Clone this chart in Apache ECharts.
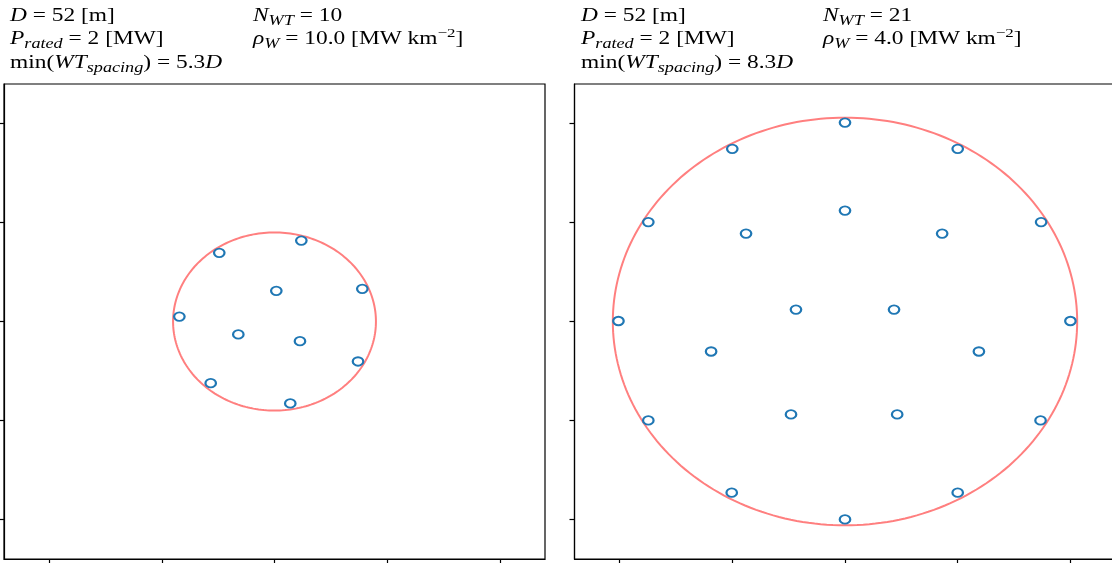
<!DOCTYPE html>
<html><head><meta charset="utf-8">
<script src="https://cdn.jsdelivr.net/npm/echarts@6/dist/echarts.min.js"></script>
<style>html,body{margin:0;padding:0;background:#fff}#c{width:1112px;height:563px}</style>
</head><body><div id="c"></div>
<script>
// ---- data (axis units; ticks unlabeled) ----
const tickValues = [-2, -1, 0, 1, 2];
const axisMin = -2.4, axisMax = 2.4;

// Left layout (N_WT = 10)
const leftX = [-0.49, 0.238, 0.016, 0.779, -0.844, -0.321, 0.226, 0.741, -0.566, 0.14];
const leftY = [0.694, 0.818, 0.31, 0.33, 0.05, -0.131, -0.199, -0.404, -0.623, -0.828];
const leftCircle = [0, 0, 0.9];   // centre x, centre y, radius

// Right layout (N_WT = 21)
const rightX = [0, -1.0, 1.0, -1.745, 1.74, -2.01, 2.0, -1.745, 1.735, -1.005, 1.0, 0,
                0, -0.878, 0.862, -0.435, 0.435, -1.188, 1.188, -0.479, 0.463];
const rightY = [2.01, 1.745, 1.745, 1.005, 1.005, 0.005, 0.005, -1.0, -1.0, -1.73, -1.73, -2.0,
                1.121, 0.889, 0.889, 0.121, 0.121, -0.303, -0.303, -0.939, -0.939];
const rightCircle = [0, 0, 2.06];

// annotation texts (rich-text markup)
const leftCol1 = ['{i|D} = 52 [m]', '{i|P}{s|rated} = 2 [MW]', 'min({i|WT}{s|spacing}) = 5.3{i|D}'];
const leftCol2 = ['{i|N}{s|WT} = 10', '{i|ρ}{s|W} = 10.0 [MW km{p|−2}]'];
const rightCol1 = ['{i|D} = 52 [m]', '{i|P}{s|rated} = 2 [MW]', 'min({i|WT}{s|spacing}) = 8.3{i|D}'];
const rightCol2 = ['{i|N}{s|WT} = 21', '{i|ρ}{s|W} = 4.0 [MW km{p|−2}]'];

// ---- chart ----
const FONT = '"Liberation Serif", "DejaVu Serif", serif';
const chart = echarts.init(document.getElementById('c'), null, {renderer: 'canvas'});

function axisCfg(idx) {
  return {
    gridIndex: idx, type: 'value', min: axisMin, max: axisMax,
    axisLine: {show: true, onZero: false, lineStyle: {color: '#000', width: 1.2}},
    axisTick: {show: true, inside: false, length: 5, customValues: tickValues, lineStyle: {color: '#000', width: 1.2}},
    axisLabel: {show: false},
    splitLine: {show: false}
  };
}
function circleSeries(idx, c) {
  return {
    type: 'custom', xAxisIndex: idx, yAxisIndex: idx, z: 2, silent: true,
    data: [c],
    renderItem: function (params, api) {
      const cx = api.value(0), cy = api.value(1), r = api.value(2);
      const pts = [];
      for (let k = 0; k <= 240; k++) {
        const t = k / 240 * 2 * Math.PI;
        pts.push(api.coord([cx + r * Math.cos(t), cy + r * Math.sin(t)]));
      }
      return {type: 'polyline', shape: {points: pts}, style: {stroke: '#ff7f7f', lineWidth: 2, fill: null}};
    }
  };
}
function scatterSeries(idx, xs, ys) {
  return {
    type: 'scatter', xAxisIndex: idx, yAxisIndex: idx, z: 3, silent: true,
    symbol: 'circle', symbolSize: [10.5, 8.5],
    itemStyle: {color: 'rgba(0,0,0,0)', borderColor: '#1f77b4', borderWidth: 2, opacity: 1},
    data: xs.map((x, i) => [x, ys[i]])
  };
}
const rich = {
  i: {fontFamily: FONT, fontStyle: 'italic', fontSize: 18, lineHeight: 24, color: '#000'},
  s: {fontFamily: FONT, fontStyle: 'italic', fontSize: 14, lineHeight: 7, verticalAlign: 'bottom', color: '#000'},
  p: {fontFamily: FONT, fontSize: 13, lineHeight: 16, verticalAlign: 'top', color: '#000'}
};
function textEl(str, x, y) {
  return {
    type: 'text', x: x, y: y, scaleX: 1.3, silent: true,
    style: {text: str, x: 0, y: 0, fontFamily: FONT, fontSize: 18, lineHeight: 24, fill: '#000',
            verticalAlign: 'top', align: 'left', rich: rich}
  };
}
const graphics = [];
const rowY = [4, 27.5, 51];
leftCol1.forEach((t, i) => graphics.push(textEl(t, 10, rowY[i])));
leftCol2.forEach((t, i) => graphics.push(textEl(t, 253, rowY[i])));
rightCol1.forEach((t, i) => graphics.push(textEl(t, 581, rowY[i])));
rightCol2.forEach((t, i) => graphics.push(textEl(t, 823, rowY[i])));

chart.setOption({
  animation: false,
  backgroundColor: '#fff',
  grid: [
    {left: 4, top: 84, width: 541, height: 475, show: true, borderColor: '#000', borderWidth: 1.2,
     backgroundColor: 'transparent', outerBoundsMode: 'none', containLabel: false},
    {left: 574.5, top: 84, width: 541, height: 475, show: true, borderColor: '#000', borderWidth: 1.2,
     backgroundColor: 'transparent', outerBoundsMode: 'none', containLabel: false}
  ],
  xAxis: [axisCfg(0), axisCfg(1)],
  yAxis: [axisCfg(0), axisCfg(1)],
  series: [
    circleSeries(0, leftCircle), scatterSeries(0, leftX, leftY),
    circleSeries(1, rightCircle), scatterSeries(1, rightX, rightY)
  ],
  graphic: graphics
});
</script></body></html>
